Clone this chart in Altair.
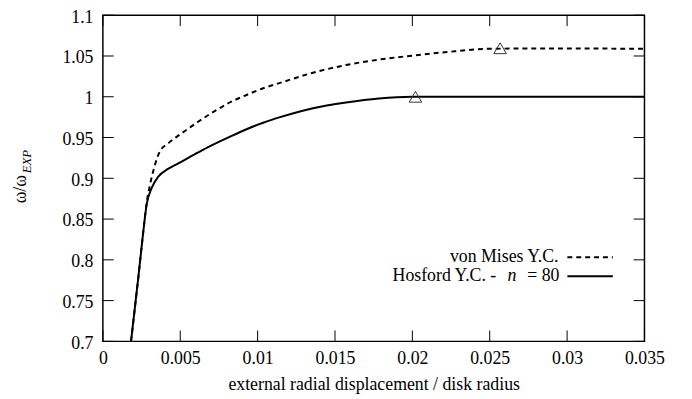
import altair as alt
import pandas as pd

# ---- data ----
hosford_x = [0.00182, 0.0023, 0.00262, 0.00283, 0.00315, 0.00358, 0.00421, 0.00485, 0.00580,
             0.00677, 0.00826, 0.00932, 0.01040, 0.01145, 0.01358, 0.01571, 0.01784, 0.0200, 0.0350]
hosford_y = [0.700, 0.780, 0.836, 0.868, 0.888, 0.902, 0.9115, 0.918, 0.928,
             0.938, 0.9515, 0.9605, 0.9685, 0.975, 0.986, 0.993, 0.998, 1.000, 1.000]

mises_x = [0.00182, 0.0023, 0.00262, 0.00283, 0.00305, 0.00337, 0.00368, 0.00421, 0.00485,
           0.00549, 0.00613, 0.00677, 0.00741, 0.00805, 0.00932, 0.01040, 0.01145, 0.01358,
           0.01571, 0.01784, 0.01997, 0.0221, 0.0253, 0.0300, 0.0350]
mises_y = [0.700, 0.780, 0.836, 0.870, 0.8925, 0.9167, 0.9328, 0.9428, 0.952,
           0.9605, 0.969, 0.977, 0.9845, 0.9915, 1.0025, 1.0107, 1.0170, 1.0295,
           1.0389, 1.0456, 1.0504, 1.0546, 1.0590, 1.0592, 1.0588]

marker_x = [0.0202, 0.02567]
marker_y = [1.0, 1.0595]

x_ticks = [0, 0.005, 0.01, 0.015, 0.02, 0.025, 0.03, 0.035]
y_ticks = [0.7, 0.75, 0.8, 0.85, 0.9, 0.95, 1.0, 1.05, 1.1]

legend_mises = "von Mises Y.C."
legend_hosford = "Hosford Y.C. -"
legend_n = "n"
legend_n_value = "= 80"
x_title = "external radial displacement / disk radius"
y_title_main = "ω/ω"
y_title_sub = "EXP"

# ---- layout / style ----
W, H = 548, 330
FONT = "Liberation Serif"
TICK = 11

hos_df = pd.DataFrame({"x": hosford_x, "y": hosford_y})
mis_df = pd.DataFrame({"x": mises_x, "y": mises_y})
mk_df = pd.DataFrame({"x": marker_x, "y": marker_y})
xt_df = pd.DataFrame({"x": x_ticks})
yt_df = pd.DataFrame({"y": y_ticks})
one = pd.DataFrame({"a": [0]})

xscale = alt.Scale(domain=[0, 0.035], nice=False, zero=False)
yscale = alt.Scale(domain=[0.7, 1.1], nice=False, zero=False)
xaxis = alt.Axis(values=x_ticks, format="~g", title=x_title, ticks=False, domain=False,
                 grid=False, labelPadding=8, titlePadding=9, labelFlush=False,
                 labelFont=FONT, labelFontSize=18, labelColor="black",
                 titleFont=FONT, titleFontSize=18, titleFontWeight="normal", titleColor="black")
yaxis = alt.Axis(values=y_ticks, format="~g", title=None, ticks=False, domain=False,
                 grid=False, labelPadding=10, labelFlush=False, labelOffset=2,
                 labelFont=FONT, labelFontSize=18, labelColor="black")


def X(field="x"):
    return alt.X(field, type="quantitative", scale=xscale, axis=xaxis)


def Y(field="y"):
    return alt.Y(field, type="quantitative", scale=yscale, axis=yaxis)


hosford = alt.Chart(hos_df).mark_line(color="black", strokeWidth=2, clip=True,
                                      interpolate="monotone").encode(
    x=X(), y=Y(), order="x:Q")
mises = alt.Chart(mis_df).mark_line(color="black", strokeWidth=2, strokeDash=[5, 4], clip=True,
                                    interpolate="monotone").encode(
    x=X(), y=Y(), order="x:Q")
markers = alt.Chart(mk_df).mark_point(shape="triangle-up", filled=False, size=160,
                                       color="#333333", strokeWidth=1, opacity=1).encode(
    x=X(), y=Y())

tick_bottom = alt.Chart(xt_df).mark_rule(color="black", strokeWidth=1).encode(
    x=X(), y=alt.value(H), y2=alt.value(H - TICK))
tick_top = alt.Chart(xt_df).mark_rule(color="black", strokeWidth=1).encode(
    x=X(), y=alt.value(0), y2=alt.value(TICK))
tick_left = alt.Chart(yt_df).mark_rule(color="black", strokeWidth=1).encode(
    y=Y(), x=alt.value(0), x2=alt.value(TICK))
tick_right = alt.Chart(yt_df).mark_rule(color="black", strokeWidth=1).encode(
    y=Y(), x=alt.value(W - TICK), x2=alt.value(W))

ROW1, ROW2 = 245, 264
leg1 = alt.Chart(one).mark_text(text=legend_mises, font=FONT, fontSize=18, align="right",
                                baseline="middle", color="black").encode(
    x=alt.value(461), y=alt.value(ROW1))
leg2a = alt.Chart(one).mark_text(text=legend_hosford, font=FONT, fontSize=18, align="right",
                                 baseline="middle", color="black").encode(
    x=alt.value(398), y=alt.value(ROW2))
leg2b = alt.Chart(one).mark_text(text=legend_n, font=FONT, fontSize=18, fontStyle="italic",
                                 align="center", baseline="middle", color="black").encode(
    x=alt.value(414), y=alt.value(ROW2))
leg2c = alt.Chart(one).mark_text(text=legend_n_value, font=FONT, fontSize=18, align="right",
                                 baseline="middle", color="black").encode(
    x=alt.value(462), y=alt.value(ROW2))
leg_dash = alt.Chart(one).mark_rule(color="black", strokeWidth=2, strokeDash=[5, 4]).encode(
    x=alt.value(470), x2=alt.value(516), y=alt.value(ROW1))
leg_solid = alt.Chart(one).mark_rule(color="black", strokeWidth=2).encode(
    x=alt.value(470), x2=alt.value(516), y=alt.value(ROW2))

ytitle_main = alt.Chart(one).mark_text(text=y_title_main, font=FONT, fontSize=18, angle=270,
                                       align="center", baseline="alphabetic", color="black").encode(
    x=alt.value(-78), y=alt.value(176))
ytitle_sub = alt.Chart(one).mark_text(text=y_title_sub, font=FONT, fontSize=13, fontStyle="italic",
                                      angle=270, align="left", baseline="alphabetic",
                                      color="black").encode(
    x=alt.value(-73), y=alt.value(160))

chart = alt.layer(
    hosford, mises, markers, tick_bottom, tick_top, tick_left, tick_right,
    leg1, leg2a, leg2b, leg2c, leg_dash, leg_solid, ytitle_main, ytitle_sub
).properties(
    width=W, height=H,
    autosize=alt.AutoSizeParams(type="none"),
    padding={"left": 96, "top": 5, "right": 40, "bottom": 56},
).configure(
    background="white"
).configure_view(
    stroke="black", strokeWidth=1.5
)

chart.save("out.html", embed_options={"renderer": "svg", "actions": False})
